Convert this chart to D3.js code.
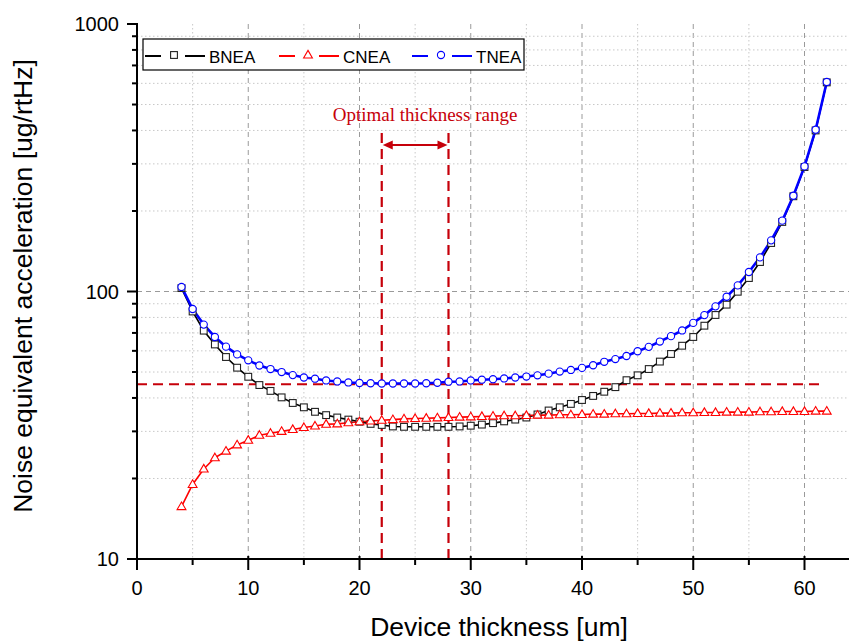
<!DOCTYPE html>
<html>
<head>
<meta charset="utf-8">
<script src="https://cdn.jsdelivr.net/npm/d3@7"></script>
<style>
  html, body { margin: 0; padding: 0; background: #fff; }
  svg { display: block; }
</style>
</head>
<body>
<svg id="chart" width="853" height="641"></svg>
<script>
// Device thickness (um), 4 .. 62
const thickness = [4,5,6,7,8,9,10,11,12,13,14,15,16,17,18,19,20,21,22,23,24,25,26,27,28,29,30,31,32,33,
  34,35,36,37,38,39,40,41,42,43,44,45,46,47,48,49,50,51,52,53,54,55,56,57,58,59,60,61,62];

// Brownian noise equivalent acceleration
const bnea = [103,84.2,71.4,63.4,56.9,51.9,48.0,44.7,42.5,40.2,38.3,36.9,35.5,34.5,33.8,33.2,32.6,32.0,31.7,31.3,
  31.2,31.2,31.2,31.2,31.2,31.3,31.5,31.8,32.2,32.7,33.2,33.8,34.7,35.9,36.9,38.0,39.3,40.7,42.2,43.9,
  46.6,48.6,51.3,54.7,58.4,62.7,67.6,74.5,81.7,89.3,99.8,112.3,128.9,151.8,182,227,292,400,605];

// Circuit noise equivalent acceleration
const cnea = [15.7,19.0,21.7,23.9,25.3,26.7,27.8,29.0,29.5,30.0,30.5,31.0,31.4,31.9,32.0,32.3,32.6,32.8,33.0,33.2,
  33.4,33.5,33.6,33.7,33.8,33.9,34.0,34.1,34.2,34.3,34.3,34.4,34.5,34.5,34.6,34.6,34.7,34.8,34.8,34.9,
  34.9,35.0,35.0,35.1,35.1,35.2,35.2,35.3,35.3,35.4,35.4,35.4,35.5,35.5,35.6,35.6,35.6,35.7,35.7];

// Total noise equivalent acceleration
const tnea = [104,86,75.2,67.6,62.2,58.2,55.3,52.9,51.3,50.0,48.7,47.7,47.2,46.5,46.1,45.7,45.5,45.4,45.3,45.3,
  45.3,45.3,45.4,45.6,46.0,46.1,46.5,46.8,47.0,47.3,47.7,48.1,48.6,49.3,50.2,50.9,51.8,53.0,54.6,55.9,
  57.4,59.8,62.1,65.0,68.1,71.5,76.3,81.6,88.0,95.6,105.4,118.3,134.1,155.3,184,228,293.6,402.6,607];

// Reference level and optimal thickness window
const thresholdLevel = 45;
const thresholdSpan = [0, 61.6];
const optimalRange = [22, 28];
const optimalLabel = "Optimal thickness range";

// Axis ticks
const xMajorTicks = [0,10,20,30,40,50,60];
const xMinorTicks = [5,15,25,35,45,55];
const yMajorTicks = [10,100,1000];
const yMinorTicks = [20,30,40,50,60,70,80,90,200,300,400,500,600,700,800,900];

const seriesList = [
  { name: "BNEA", values: bnea, color: "#000000", width: 1.6, shape: "square" },
  { name: "CNEA", values: cnea, color: "#ff0000", width: 1.6, shape: "triangle" },
  { name: "TNEA", values: tnea, color: "#0000ff", width: 2.6, shape: "circle" }
];

const svg = d3.select("#chart");
const x = d3.scaleLinear().domain([0, 64]).range([137, 849]);
const y = d3.scaleLog().domain([10, 1000]).range([559, 24]);
const plotTop = y(1000), plotBottom = y(10), plotLeft = x(0), plotRight = x(64);
const font = "'Liberation Sans', Arial, sans-serif";
const annotColor = "#c6000a";

// Grid
const grid = svg.append("g");
grid.selectAll(".vminor").data(xMinorTicks).join("line")
  .attr("x1", d => x(d)).attr("x2", d => x(d)).attr("y1", plotTop).attr("y2", plotBottom)
  .attr("stroke", "#c8c8c8").attr("stroke-width", 1).attr("stroke-dasharray", "1.5,2.5");
grid.selectAll(".vmajor").data(xMajorTicks.filter(d => d > 0)).join("line")
  .attr("x1", d => x(d)).attr("x2", d => x(d)).attr("y1", plotTop).attr("y2", plotBottom)
  .attr("stroke", "#9a9a9a").attr("stroke-width", 1).attr("stroke-dasharray", "5,4");
grid.selectAll(".hminor").data(yMinorTicks).join("line")
  .attr("x1", plotLeft).attr("x2", plotRight).attr("y1", d => y(d)).attr("y2", d => y(d))
  .attr("stroke", "#c8c8c8").attr("stroke-width", 1).attr("stroke-dasharray", "1.5,2.5");
grid.selectAll(".hmajor").data([100]).join("line")
  .attr("x1", plotLeft).attr("x2", plotRight).attr("y1", d => y(d)).attr("y2", d => y(d))
  .attr("stroke", "#9a9a9a").attr("stroke-width", 1).attr("stroke-dasharray", "5,4");

// Threshold level and optimal window
const annot = svg.append("g");
annot.append("line")
  .attr("x1", x(thresholdSpan[0])).attr("x2", x(thresholdSpan[1]))
  .attr("y1", y(thresholdLevel)).attr("y2", y(thresholdLevel))
  .attr("stroke", annotColor).attr("stroke-width", 2.2).attr("stroke-dasharray", "10,6");
annot.selectAll(".vr").data(optimalRange).join("line")
  .attr("x1", d => x(d)).attr("x2", d => x(d)).attr("y1", 133).attr("y2", plotBottom)
  .attr("stroke", annotColor).attr("stroke-width", 2.2).attr("stroke-dasharray", "10,6");

// Double-headed arrow across the window
const ay = 145;
const ax0 = x(optimalRange[0]) + 1, ax1 = x(optimalRange[1]) - 1;
annot.append("line").attr("x1", ax0 + 8).attr("x2", ax1 - 8).attr("y1", ay).attr("y2", ay)
  .attr("stroke", annotColor).attr("stroke-width", 2);
annot.append("path")
  .attr("d", `M${ax0},${ay} L${ax0 + 10},${ay - 4.5} L${ax0 + 10},${ay + 4.5} Z`)
  .attr("fill", annotColor);
annot.append("path")
  .attr("d", `M${ax1},${ay} L${ax1 - 10},${ay - 4.5} L${ax1 - 10},${ay + 4.5} Z`)
  .attr("fill", annotColor);
annot.append("text")
  .attr("x", 425).attr("y", 121)
  .attr("text-anchor", "middle")
  .attr("font-family", "'Liberation Serif', 'Times New Roman', serif")
  .attr("font-size", 19).attr("fill", annotColor)
  .text(optimalLabel);

// Marker drawing
function drawMarker(sel, shape, color) {
  if (shape === "square") {
    sel.append("rect").attr("x", -3.4).attr("y", -3.4).attr("width", 6.8).attr("height", 6.8)
      .attr("fill", "#fff").attr("stroke", "#222").attr("stroke-width", 1.1);
  } else if (shape === "triangle") {
    sel.append("path").attr("d", "M0,-4.6 L4.4,3 L-4.4,3 Z")
      .attr("fill", "#fff").attr("stroke", color).attr("stroke-width", 1.1);
  } else {
    sel.append("circle").attr("r", 3.6)
      .attr("fill", "#fff").attr("stroke", color).attr("stroke-width", 1.1);
  }
}

// Series lines then markers
const lineGen = d3.line().x(d => x(d[0])).y(d => y(d[1]));
seriesList.forEach(s => {
  const pts = thickness.map((t, i) => [t, s.values[i]]);
  svg.append("path").datum(pts).attr("d", lineGen)
    .attr("fill", "none").attr("stroke", s.color).attr("stroke-width", s.width)
    .attr("stroke-linejoin", "round");
});
seriesList.forEach(s => {
  const pts = thickness.map((t, i) => [t, s.values[i]]);
  svg.append("g").selectAll("g").data(pts).join("g")
    .attr("transform", d => `translate(${x(d[0])},${y(d[1])})`)
    .each(function () { drawMarker(d3.select(this), s.shape, s.color); });
});

// Axes
const xAxis = svg.append("g").attr("transform", `translate(0,${plotBottom})`);
xAxis.append("line").attr("x1", plotLeft).attr("x2", plotRight).attr("y1", 0).attr("y2", 0)
  .attr("stroke", "#000").attr("stroke-width", 2);
xAxis.selectAll(".xmaj").data(xMajorTicks).join("line")
  .attr("x1", d => x(d)).attr("x2", d => x(d)).attr("y1", -3).attr("y2", 11)
  .attr("stroke", "#000").attr("stroke-width", 2);
xAxis.selectAll(".xmin").data(xMinorTicks).join("line")
  .attr("x1", d => x(d)).attr("x2", d => x(d)).attr("y1", 0).attr("y2", 6)
  .attr("stroke", "#000").attr("stroke-width", 2);
xAxis.selectAll("text").data(xMajorTicks).join("text")
  .attr("x", d => x(d)).attr("y", 36).attr("text-anchor", "middle")
  .attr("font-family", font).attr("font-size", 20).text(d => d);

const yAxis = svg.append("g").attr("transform", `translate(${plotLeft},0)`);
yAxis.append("line").attr("x1", 0).attr("x2", 0).attr("y1", plotTop - 1).attr("y2", plotBottom)
  .attr("stroke", "#000").attr("stroke-width", 2);
yAxis.selectAll(".ymaj").data(yMajorTicks).join("line")
  .attr("x1", -10).attr("x2", 0).attr("y1", d => y(d)).attr("y2", d => y(d))
  .attr("stroke", "#000").attr("stroke-width", 2);
yAxis.selectAll(".ymin").data(yMinorTicks).join("line")
  .attr("x1", -5).attr("x2", 0).attr("y1", d => y(d)).attr("y2", d => y(d))
  .attr("stroke", "#000").attr("stroke-width", 2);
yAxis.selectAll("text").data(yMajorTicks).join("text")
  .attr("x", -18).attr("y", d => y(d)).attr("dy", "0.35em").attr("text-anchor", "end")
  .attr("font-family", font).attr("font-size", 20).text(d => d);

// Axis titles
svg.append("text").attr("x", 499).attr("y", 636).attr("text-anchor", "middle")
  .attr("font-family", font).attr("font-size", 26.5).text("Device thickness [um]");
svg.append("text").attr("transform", "translate(32,286) rotate(-90)").attr("text-anchor", "middle")
  .attr("font-family", font).attr("font-size", 26.5).text("Noise equivalent acceleration [ug/rtHz]");

// Legend
const legend = svg.append("g");
legend.append("rect").attr("x", 143).attr("y", 39).attr("width", 381).attr("height", 31)
  .attr("fill", "#fff").attr("stroke", "#000").attr("stroke-width", 1.2);
const legendX = [145, 279, 412];
seriesList.forEach((s, i) => {
  const g = legend.append("g").attr("transform", `translate(${legendX[i]},56)`);
  g.append("line").attr("x1", 0).attr("x2", 16).attr("y1", 0).attr("y2", 0)
    .attr("stroke", s.color).attr("stroke-width", 2);
  g.append("line").attr("x1", 40).attr("x2", 60).attr("y1", 0).attr("y2", 0)
    .attr("stroke", s.color).attr("stroke-width", 2);
  const m = g.append("g").attr("transform", "translate(29,-1)");
  drawMarker(m, s.shape, s.color);
  g.append("text").attr("x", 64).attr("y", 7).attr("font-family", font).attr("font-size", 17)
    .text(s.name);
});
</script>
</body>
</html>
